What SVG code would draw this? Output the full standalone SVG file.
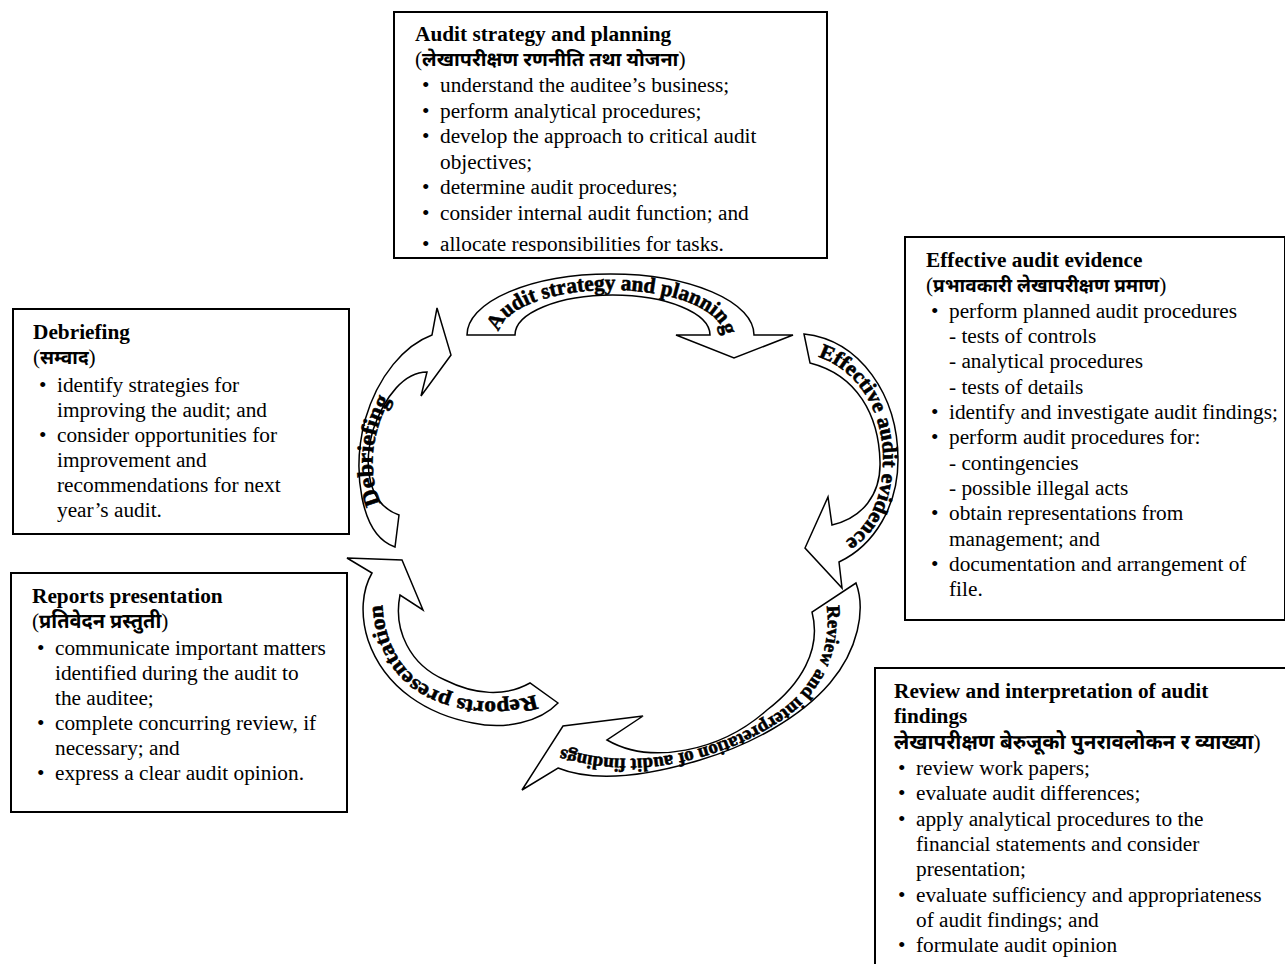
<svg xmlns="http://www.w3.org/2000/svg" width="1285" height="964" viewBox="0 0 1285 964">
<defs>
<style>
.box{fill:#fff;stroke:#000;stroke-width:2}
.band{fill:#fff;stroke:#000;stroke-width:1.5;stroke-linejoin:miter}
.t{font-family:"Liberation Serif","Times New Roman",serif;font-size:21.3px;fill:#000}
.b{font-weight:bold}
.dev{font-family:"Noto Sans Devanagari","Noto Serif Devanagari","Lohit Devanagari","Noto Sans",sans-serif;font-weight:bold}
.arc{font-family:"Liberation Serif","Times New Roman",serif;font-weight:bold;fill:#000;stroke:#000;stroke-width:0.6}
</style>
<clipPath id="c1"><rect x="394" y="12" width="433" height="239.5"/></clipPath>
<path id="p1" d="M 499 335 A 112 45 0 0 1 723 335"/>
<path id="p2" d="M 815 356 C 857 368 883 410 883 460 C 883 503 865 533 838 545"/>
<path id="p3" d="M 826 603 C 834 650 812 692 772 716 C 735 740 690 754 650 758 C 615 761 585 756 556 747"/>
<path id="p4" d="M 540 693 C 500 708 450 703 418 680 C 392 660 380 625 383 590"/>
<path id="p5" d="M 382 505 C 368 478 368 432 395 392"/>
</defs>
<rect width="1285" height="964" fill="#fff"/>

<g id="connectors">
<g id="arrow-planning">
<path class="band" d="M 467 335 A 143.5 61 0 0 1 754 335 L 793 335 L 734 358 L 676 335 L 710 335 A 97.5 40 0 0 0 515 335 Z"/>
<text class="arc" font-size="22"><textPath href="#p1" startOffset="3" textLength="255" lengthAdjust="spacingAndGlyphs">Audit strategy and planning</textPath></text>
</g>
<g id="arrow-evidence">
<path class="band" d="M 804 334 C 860 340 898 395 898 460 C 898 505 875 545 839 562 L 842 588 L 805 548 L 828 497 L 832 525 C 862 518 881 495 880 462 C 879 415 857 375 810 363 Z"/>
<text class="arc" font-size="21"><textPath href="#p2" startOffset="3" textLength="224" lengthAdjust="spacingAndGlyphs">Effective audit evidence</textPath></text>
</g>
<g id="arrow-review">
<path class="band" d="M 856 583 C 866 610 858 650 830 683 C 800 718 750 745 700 760 C 660 772 600 785 558 768 L 522 790 L 563 726 L 643 716 L 607 740 C 650 765 720 752 767 710 C 800 685 822 650 812 612 Z"/>
<text class="arc" font-size="19"><textPath href="#p3" startOffset="3" textLength="350" lengthAdjust="spacingAndGlyphs">Review and interpretation of audit findings</textPath></text>
</g>
<g id="arrow-reports">
<path class="band" d="M 372 573 L 347 558 L 402 560 L 423 610 L 400 595 C 393 630 410 665 445 680 C 475 695 505 697 530 683 L 558 703 C 540 722 505 730 473 723 C 430 715 385 690 368 640 C 360 615 362 590 372 573 Z"/>
<text class="arc" font-size="21"><textPath href="#p4" startOffset="5" textLength="208" lengthAdjust="spacingAndGlyphs">Reports presentation</textPath></text>
</g>
<g id="arrow-debriefing">
<path class="band" d="M 395 547 C 360 535 352 470 365 420 C 378 375 405 345 432 335 L 437 308 L 451 355 L 421 396 L 427 372 C 405 372 385 395 373 430 C 362 470 370 505 399 515 Z"/>
<text class="arc" font-size="23"><textPath href="#p5" startOffset="2" textLength="108" lengthAdjust="spacingAndGlyphs">Debriefing</textPath></text>
</g>
</g>

<g id="node-planning">
<rect class="box" x="394" y="12" width="433" height="246"/>
<g clip-path="url(#c1)" class="t">
<text x="415" y="41" class="b">Audit strategy and planning</text>
<text x="415" y="66">(<tspan class="dev" style="font-size:19.8px">लेखापरीक्षण रणनीति तथा योजना</tspan>)</text>
<text x="422" y="92">•</text><text x="440" y="92">understand the auditee’s business;</text>
<text x="422" y="117.5">•</text><text x="440" y="117.5">perform analytical procedures;</text>
<text x="422" y="143">•</text><text x="440" y="143">develop the approach to critical audit</text>
<text x="440" y="168.5">objectives;</text>
<text x="422" y="194">•</text><text x="440" y="194">determine audit procedures;</text>
<text x="422" y="219.5">•</text><text x="440" y="219.5">consider internal audit function; and</text>
<text x="422" y="251">•</text><text x="440" y="251">allocate responsibilities for tasks.</text>
</g>
<rect x="394" y="12" width="433" height="246" fill="none" stroke="#000" stroke-width="2"/>
</g>

<g id="node-evidence" class="t">
<rect class="box" x="905" y="237" width="380" height="383"/>
<text x="926" y="267" class="b">Effective audit evidence</text>
<text x="926" y="292">(<tspan class="dev" style="font-size:19px">प्रभावकारी लेखापरीक्षण प्रमाण</tspan>)</text>
<text x="931" y="318">•</text><text x="949" y="318">perform planned audit procedures</text>
<text x="949" y="343">- tests of controls</text>
<text x="949" y="368">- analytical procedures</text>
<text x="949" y="393.5">- tests of details</text>
<text x="931" y="419">•</text><text x="949" y="419">identify and investigate audit findings;</text>
<text x="931" y="444">•</text><text x="949" y="444">perform audit procedures for:</text>
<text x="949" y="469.5">- contingencies</text>
<text x="949" y="495">- possible illegal acts</text>
<text x="931" y="520">•</text><text x="949" y="520">obtain representations from</text>
<text x="949" y="545.5">management; and</text>
<text x="931" y="571">•</text><text x="949" y="571">documentation and arrangement of</text>
<text x="949" y="596">file.</text>
</g>

<g id="node-debriefing" class="t">
<rect class="box" x="13" y="309" width="336" height="225"/>
<text x="33" y="339" class="b">Debriefing</text>
<text x="33" y="364">(<tspan class="dev" style="font-size:19px">सम्वाद</tspan>)</text>
<text x="39" y="392">•</text><text x="57" y="392">identify strategies for</text>
<text x="57" y="417">improving the audit; and</text>
<text x="39" y="442">•</text><text x="57" y="442">consider opportunities for</text>
<text x="57" y="467">improvement and</text>
<text x="57" y="492">recommendations for next</text>
<text x="57" y="517">year’s audit.</text>
</g>

<g id="node-reports" class="t">
<rect class="box" x="11" y="573" width="336" height="239"/>
<text x="32" y="603" class="b">Reports presentation</text>
<text x="32" y="628">(<tspan class="dev" style="font-size:19.9px">प्रतिवेदन प्रस्तुती</tspan>)</text>
<text x="37" y="655">•</text><text x="55" y="655">communicate important matters</text>
<text x="55" y="680">identified during the audit to</text>
<text x="55" y="705">the auditee;</text>
<text x="37" y="730">•</text><text x="55" y="730">complete concurring review, if</text>
<text x="55" y="755">necessary; and</text>
<text x="37" y="780">•</text><text x="55" y="780">express a clear audit opinion.</text>
</g>

<g id="node-review" class="t">
<rect class="box" x="875" y="668" width="420" height="320"/>
<text x="894" y="698" class="b">Review and interpretation of audit</text>
<text x="894" y="723" class="b">findings</text>
<text x="894" y="748.5"><tspan class="dev" style="font-size:20.7px">लेखापरीक्षण बेरुजूको पुनरावलोकन र व्याख्या</tspan>)</text>
<text x="898" y="775">•</text><text x="916" y="775">review work papers;</text>
<text x="898" y="800">•</text><text x="916" y="800">evaluate audit differences;</text>
<text x="898" y="825.5">•</text><text x="916" y="825.5">apply analytical procedures to the</text>
<text x="916" y="851">financial statements and consider</text>
<text x="916" y="876">presentation;</text>
<text x="898" y="901.5">•</text><text x="916" y="901.5">evaluate sufficiency and appropriateness</text>
<text x="916" y="927">of audit findings; and</text>
<text x="898" y="952">•</text><text x="916" y="952">formulate audit opinion</text>
</g>
</svg>
